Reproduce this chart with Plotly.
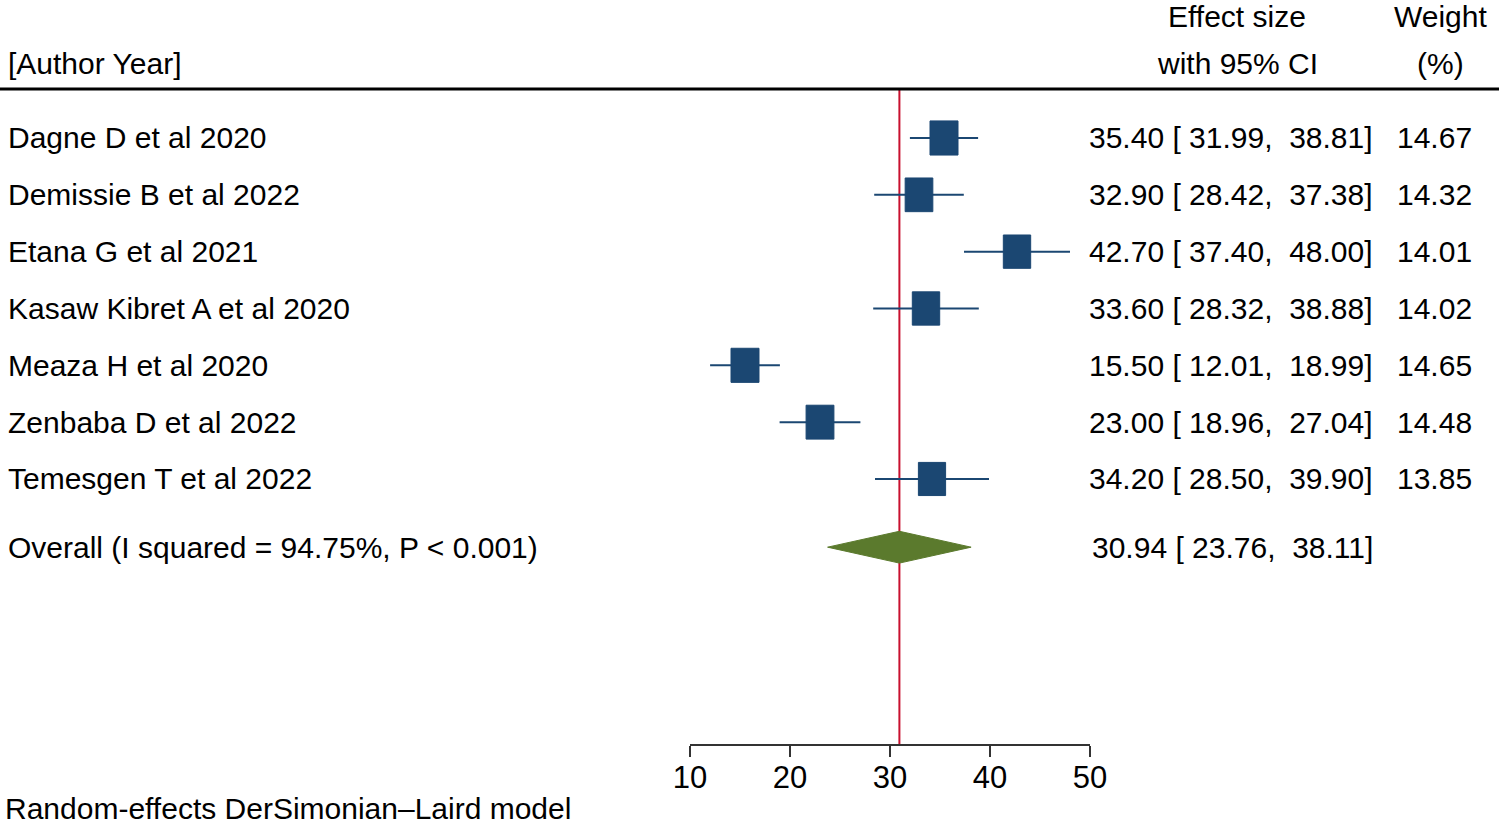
import plotly.graph_objects as go
import numpy as np

studies = ["Dagne D et al 2020", "Demissie B et al 2022", "Etana G et al 2021",
           "Kasaw Kibret A et al 2020", "Meaza H et al 2020", "Zenbaba D et al 2022",
           "Temesgen T et al 2022"]
es = [35.40, 32.90, 42.70, 33.60, 15.50, 23.00, 34.20]
lo = [31.99, 28.42, 37.40, 28.32, 12.01, 18.96, 28.50]
hi = [38.81, 37.38, 48.00, 38.88, 18.99, 27.04, 39.90]
weights = [14.67, 14.32, 14.01, 14.02, 14.65, 14.48, 13.85]
overall_label = "Overall (I squared = 94.75%, P < 0.001)"
overall = [30.94, 23.76, 38.11]
xticks = [10, 20, 30, 40, 50]

W, H = 1499, 826
FONT = "Liberation Sans Narrow, Arial Narrow, Liberation Sans, Arial"
FS = 30
SQ = "#1b4772"
DIA = "#5b7a2d"
RED = "#c8102e"

rows = list(range(1, len(studies) + 1))
y_overall = 8.2

fig = go.Figure()

# CI lines
for r, l, h in zip(rows, lo, hi):
    fig.add_trace(go.Scatter(x=[l, h], y=[r, r], mode="lines",
                             line=dict(color=SQ, width=2), hoverinfo="skip", showlegend=False))
# weighted boxes
for r, e, w in zip(rows, es, weights):
    s = np.sqrt(w / max(weights))
    hx = 1.4 * s
    hy = 0.3 * s
    fig.add_trace(go.Scatter(x=[e - hx, e + hx, e + hx, e - hx, e - hx],
                             y=[r - hy, r - hy, r + hy, r + hy, r - hy],
                             mode="lines", fill="toself", fillcolor=SQ,
                             line=dict(color=SQ, width=1), hoverinfo="skip", showlegend=False))
# overall diamond
dh = 0.28
fig.add_trace(go.Scatter(x=[overall[1], overall[0], overall[2], overall[0], overall[1]],
                         y=[y_overall, y_overall - dh, y_overall, y_overall + dh, y_overall],
                         mode="lines", fill="toself", fillcolor=DIA,
                         line=dict(color=DIA, width=1), hoverinfo="skip", showlegend=False))

# reference line at overall estimate
fig.add_shape(type="line", xref="x", yref="paper", x0=overall[0], x1=overall[0],
              y0=1 - 745 / H, y1=1 - 89 / H, line=dict(color=RED, width=2), layer="below")
# header rule
fig.add_shape(type="line", xref="paper", yref="paper", x0=0, x1=1,
              y0=1 - 89 / H, y1=1 - 89 / H, line=dict(color="black", width=3))

ann = []
def txt(x, y, s, anchor="left", yref="y"):
    ann.append(dict(x=x, y=y, xref="paper", yref=yref, text=s, showarrow=False,
                    xanchor=anchor, yanchor="middle", font=dict(family=FONT, size=FS, color="black")))

for r, name, e, l, h, w in zip(rows, studies, es, lo, hi, weights):
    txt(6 / W, r, name)
    txt(1375 / W, r, f"{e:.2f} [ {l:.2f},  {h:.2f}]", "right")
    txt(1474 / W, r, f"{w:.2f}", "right")
txt(6 / W, y_overall, overall_label)
txt(1375 / W, y_overall, f"{overall[0]:.2f} [ {overall[1]:.2f},  {overall[2]:.2f}]", "right")

txt(1237 / W, 1 - 17 / H, "Effect size", "center", "paper")
txt(1237 / W, 1 - 63 / H, "with 95% CI", "center", "paper")
txt(1440 / W, 1 - 17 / H, "Weight", "center", "paper")
txt(1440 / W, 1 - 63 / H, "(%)", "center", "paper")
txt(6 / W, 1 - 63 / H, "[Author Year]", "left", "paper")
txt(3 / W, 1 - 808 / H, "Random-effects DerSimonian\u2013Laird model", "left", "paper")

fig.update_layout(
    template="none",
    width=W, height=H, margin=dict(l=0, r=0, t=0, b=0, pad=0, autoexpand=False),
    paper_bgcolor="white", plot_bgcolor="white",
    annotations=ann, showlegend=False,
    xaxis=dict(domain=[690 / W, 1090 / W], range=[10, 50], anchor="free", position=1 - 745 / H,
               showline=True, linecolor="#333333", linewidth=2, ticks="outside", ticklen=11,
               tickwidth=2, tickcolor="#333333", tickvals=xticks, showgrid=False, zeroline=False,
               automargin=False, ticklabelstandoff=-6,
               tickfont=dict(family=FONT, size=31, color="black")),
    yaxis=dict(domain=[0, 1], range=[13.106, -1.428], visible=False, showgrid=False,
               automargin=False),
)

fig.write_html("out.html", config={"displayModeBar": False},
               post_script="document.body.style.margin='0';document.body.style.overflow='hidden';")
